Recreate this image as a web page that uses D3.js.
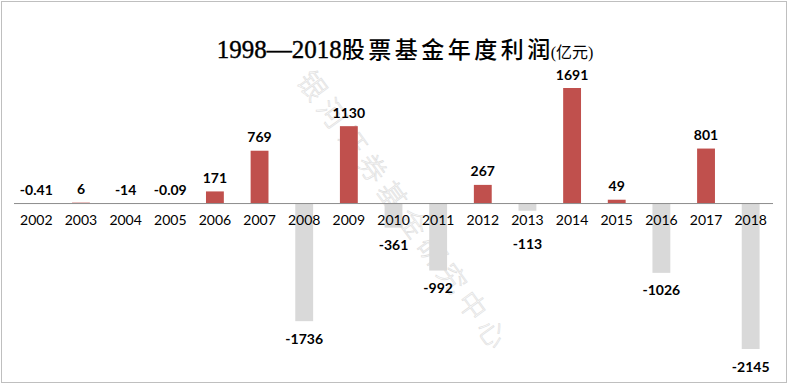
<!DOCTYPE html>
<html>
<head>
<meta charset="utf-8">
<script src="https://cdn.jsdelivr.net/npm/d3@7"></script>
<style>
  body { margin: 0; background: #fff; }
  svg { display: block; }
</style>
</head>
<body>
<svg width="793" height="389"></svg>
<script>
const years = ["2002", "2003", "2004", "2005", "2006", "2007", "2008", "2009", "2010",
  "2011", "2012", "2013", "2014", "2015", "2016", "2017", "2018"];
const profits = [-0.41, 6, -14, -0.09, 171, 769, -1736, 1130, -361,
  -992, 267, -113, 1691, 49, -1026, 801, -2145];
const labels = ["-0.41", "6", "-14", "-0.09", "171", "769", "-1736", "1130", "-361",
  "-992", "267", "-113", "1691", "49", "-1026", "801", "-2145"];

const svg = d3.select("svg");
const width = 793;
const height = 389;

// outer frame
svg.append("rect")
  .attr("x", 1.5).attr("y", 1.5)
  .attr("width", 785).attr("height", 381)
  .attr("fill", "#fff")
  .attr("stroke", "#bfbfbf")
  .attr("stroke-width", 1);

// watermark
svg.append("text")
  .attr("transform", "translate(302,76) rotate(54)")
  .attr("font-family", "Noto Sans CJK SC")
  .attr("font-size", 28)
  .attr("font-weight", 300)
  .attr("letter-spacing", 6)
  .attr("fill", "#fff")
  .attr("stroke", "#e0e0e0")
  .attr("stroke-width", 0.7)
  .attr("dominant-baseline", "middle")
  .text("银河证券基金研究中心");

// title
const title = svg.append("text")
  .attr("x", 405).attr("y", 58)
  .attr("text-anchor", "middle")
  .attr("fill", "#000");
title.append("tspan")
  .attr("font-family", "Liberation Serif")
  .attr("font-size", 25)
  .attr("stroke", "#000").attr("stroke-width", 0.4)
  .text("1998—2018");
title.append("tspan")
  .attr("font-family", "Noto Sans CJK SC")
  .attr("font-weight", 500)
  .attr("font-size", 23)
  .attr("letter-spacing", 3.5)
  .text("股票基金年度利润");
title.append("tspan")
  .attr("dx", -3)
  .attr("font-family", "Liberation Serif, Noto Sans CJK SC")
  .attr("font-size", 16)
  .text("(亿元)");

const x = d3.scaleBand()
  .domain(years)
  .range([14, 773])
  .paddingInner(0.6)
  .paddingOuter(0.3);

const y = d3.scaleLinear()
  .domain([-2145, 1691])
  .range([349, 88]);

const zero = y(0);

// bars
svg.append("g")
  .selectAll("rect")
  .data(profits)
  .join("rect")
  .attr("x", (d, i) => x(years[i]))
  .attr("width", x.bandwidth())
  .attr("y", d => Math.min(y(d), zero))
  .attr("height", d => Math.abs(y(d) - zero))
  .attr("fill", d => d >= 0 ? "#c0504d" : "#d9d9d9");

// axis line and category labels
const axis = d3.axisBottom(x).tickSize(0).tickPadding(12);
const gAxis = svg.append("g")
  .attr("transform", `translate(0,${zero})`)
  .call(axis);
gAxis.select(".domain")
  .attr("d", `M14,0.5H773`)
  .attr("stroke", "#8c8c8c");
gAxis.selectAll("text")
  .attr("font-family", "Lato, Liberation Sans, sans-serif")
  .attr("font-size", 14)
  .attr("fill", "#000");

// data labels
svg.append("g")
  .selectAll("text")
  .data(profits)
  .join("text")
  .attr("x", (d, i) => x(years[i]) + x.bandwidth() / 2)
  .attr("y", d => {
    if (d > -50) return Math.min(y(d), zero) - 14;
    return Math.max(y(d) + 17, 243);
  })
  .attr("text-anchor", "middle")
  .attr("dominant-baseline", "central")
  .attr("font-family", "Lato, Liberation Sans, sans-serif")
  .attr("font-weight", "bold")
  .attr("font-size", 14)
  .attr("fill", "#000")
  .text((d, i) => labels[i]);
</script>
</body>
</html>
